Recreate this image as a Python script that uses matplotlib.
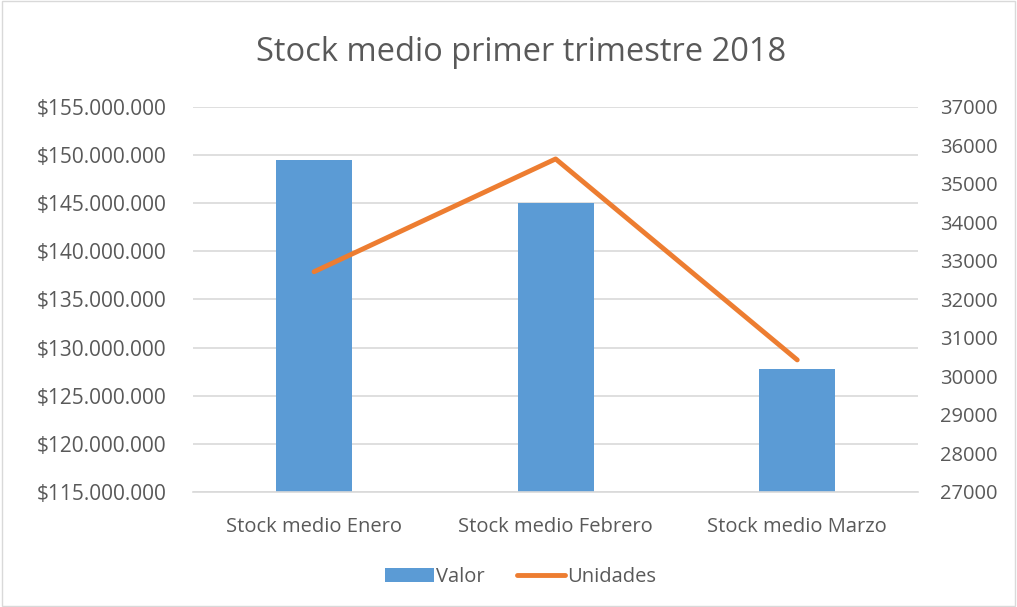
import numpy as np
import matplotlib
matplotlib.use('Agg')
import matplotlib.pyplot as plt
from matplotlib.ticker import FixedLocator, FuncFormatter
from matplotlib.patches import Rectangle

# data
categorias = ['Stock medio Enero', 'Stock medio Febrero', 'Stock medio Marzo']
valor = [149500000, 145000000, 127750000]
unidades = [32720, 35650, 30430]

plt.rcParams['font.family'] = ['Open Sans', 'DejaVu Sans']
txt = '#595959'
azul = '#5B9BD5'
naranja = '#ED7D31'
grid_c = '#D9D9D9'

fig = plt.figure(figsize=(10.17, 6.07), dpi=100)
ax = fig.add_axes([0.19, 0.1895, 0.7127, 0.6343])
ax2 = ax.twinx()

x = np.arange(len(categorias))
ax.bar(x, valor, width=0.315, color=azul, label='Valor', zorder=2)
ax2.plot(x, unidades, color=naranja, linewidth=3.5, solid_capstyle='round', label='Unidades', zorder=3)

ax.set_xlim(-0.5, 2.5)
ax.set_ylim(115000000, 155000000)
ax2.set_ylim(27000, 37000)

ax.yaxis.set_major_locator(FixedLocator(np.arange(115000000, 155000001, 5000000)))
ax.yaxis.set_major_formatter(FuncFormatter(lambda v, p: '$' + format(int(v), ',').replace(',', '.')))
ax2.yaxis.set_major_locator(FixedLocator(np.arange(27000, 37001, 1000)))

ax.set_xticks(x)
ax.set_xticklabels(categorias)

ax.grid(axis='y', color=grid_c, linewidth=1.2, zorder=0)
ax.set_axisbelow(True)
for a in (ax, ax2):
	for s in a.spines.values():
		s.set_visible(False)
ax.spines['bottom'].set_visible(True)
ax.spines['bottom'].set_color(grid_c)
ax.spines['bottom'].set_linewidth(1.2)

ax.tick_params(axis='y', length=0, pad=19.5, labelsize=15, labelcolor=txt)
ax.tick_params(axis='x', length=0, pad=18, labelsize=14.5, labelcolor=txt)
ax2.tick_params(axis='y', length=0, pad=16, labelsize=14.5, labelcolor=txt)

fig.text(0.512, 0.914, 'Stock medio primer trimestre 2018', ha='center', va='center', fontsize=23.5, color=txt)

h1, l1 = ax.get_legend_handles_labels()
h2, l2 = ax2.get_legend_handles_labels()
fig.legend(h1 + h2, l1 + l2, loc='center', bbox_to_anchor=(0.512, 0.05), ncol=2, frameon=False,
	fontsize=14.5, labelcolor=txt, handlelength=2.4, handletextpad=0.1, columnspacing=1.6)

# chart border
fig.patches.append(Rectangle((0.002, 0.002), 0.996, 0.996, transform=fig.transFigure,
	fill=False, edgecolor='#D9D9D9', linewidth=1))

fig.savefig('out.png', dpi=100)
